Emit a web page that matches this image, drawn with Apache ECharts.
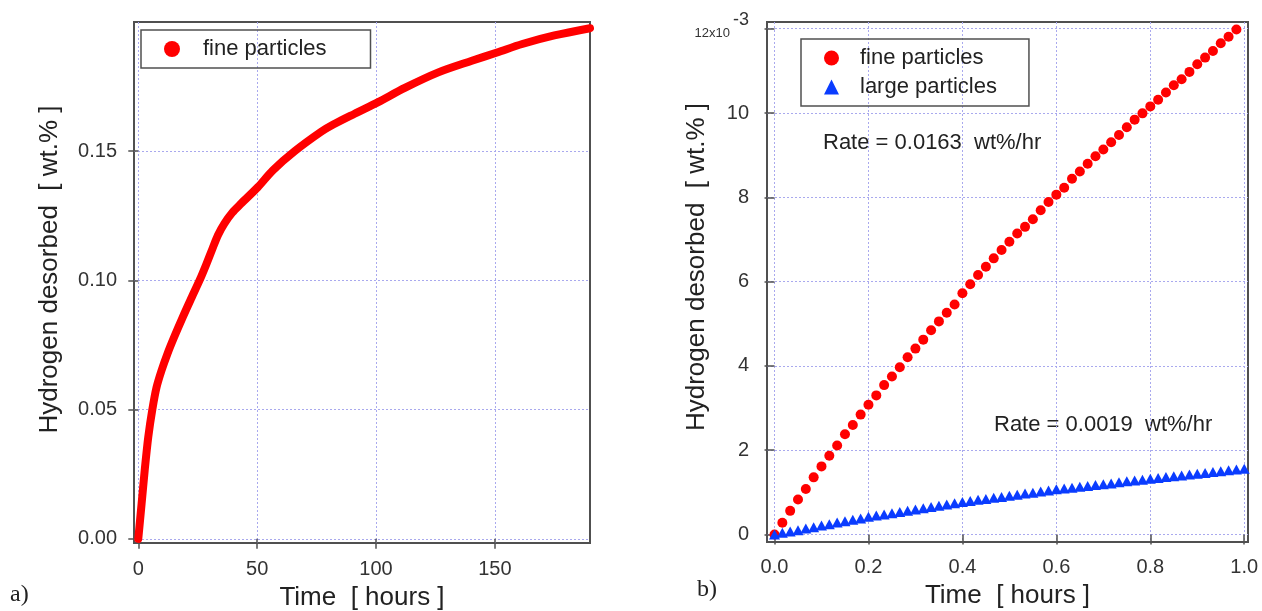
<!DOCTYPE html>
<html>
<head>
<meta charset="utf-8">
<script src="https://cdn.jsdelivr.net/npm/echarts@6/dist/echarts.min.js"></script>
<style>
html,body{margin:0;padding:0;background:#fff;}
#chart{width:1262px;height:611px;}
</style>
</head>
<body>
<div id="chart"></div>
<script>
// ---- Panel a) : long-term desorption, fine particles ----
const aTimeHours = [0,1.4,2.7,4.2,5.9,7.7,9.8,12.3,15.1,18.9,22.5,26,28.5,31.3,33.5,36.2,39.5,43.2,50.3,56.6,65.8,76.9,82,91,100.9,112.1,126.2,140.3,150.9,161.5,175,190];
const aFine = [0,0.0136,0.0265,0.0394,0.05,0.0587,0.0652,0.0717,0.0781,0.0862,0.0935,0.1005,0.1060,0.1125,0.1175,0.1220,0.1262,0.1297,0.1361,0.1426,0.150,0.1575,0.1603,0.1645,0.1690,0.1745,0.1805,0.1850,0.1882,0.1915,0.1948,0.1976];
const aXTicks = [0,50,100,150];
const aYTicks = [0,0.05,0.10,0.15];

// ---- Panel b) : first hour, fine vs large particles (values x10^-3 wt.%) ----
const bMinutes = [0,1,2,3,4,5,6,7,8,9,10,11,12,13,14,15,16,17,18,19,20,21,22,23,24,25,26,27,28,29,30,31,32,33,34,35,36,37,38,39,40,41,42,43,44,45,46,47,48,49,50,51,52,53,54,55,56,57,58,59,60];
const bFine = [0,0.276,0.559,0.827,1.079,1.354,1.614,1.866,2.110,2.378,2.598,2.843,3.079,3.299,3.543,3.748,3.969,4.205,4.409,4.622,4.843,5.055,5.260,5.457,5.724,5.937,6.157,6.354,6.551,6.748,6.945,7.142,7.299,7.480,7.693,7.890,8.063,8.228,8.441,8.614,8.795,8.976,9.134,9.307,9.480,9.661,9.843,9.992,10.157,10.315,10.488,10.661,10.803,10.976,11.157,11.315,11.472,11.654,11.811,11.984];
const bLarge = [0,0.04,0.07,0.10,0.14,0.17,0.21,0.24,0.28,0.31,0.35,0.38,0.42,0.45,0.47,0.50,0.53,0.56,0.59,0.62,0.65,0.68,0.71,0.74,0.77,0.79,0.82,0.84,0.87,0.89,0.92,0.94,0.97,0.99,1.02,1.04,1.07,1.09,1.11,1.13,1.15,1.17,1.19,1.21,1.24,1.26,1.28,1.30,1.32,1.34,1.36,1.38,1.40,1.42,1.44,1.46,1.48,1.50,1.52,1.54,1.56];
const bXTicks = [0,0.2,0.4,0.6,0.8,1.0];
const bYTicks = [0,2,4,6,8,10,12];

const seriesNames = ['fine particles','large particles'];
const rateTexts = ['Rate = 0.0163  wt%/hr','Rate = 0.0019  wt%/hr'];
const panelLabels = ['a)','b)'];
const xName = 'Time  [ hours ]';
const yName = 'Hydrogen desorbed  [ wt.% ]';

const FONT = 'Liberation Sans, Arial, Helvetica, sans-serif';
const SERIF = 'Liberation Serif, Times New Roman, serif';
const FRAME = '#505050';
const GRIDC = '#a9a9ee';

const chart = echarts.init(document.getElementById('chart'), null, {renderer:'canvas'});

function axisCommon(ticks, fmt, margin){
  return {
    axisLine:{show:false},
    axisTick:{show:true, inside:false, length:10, customValues:ticks, lineStyle:{color:FRAME,width:1.5}},
    axisLabel:{customValues:ticks, color:'#333', fontFamily:FONT, fontSize:20, margin:margin, formatter:fmt},
    splitLine:{show:true, lineStyle:{color:GRIDC, width:1, type:[2,2]}},
    nameTextStyle:{color:'#222', fontFamily:FONT, fontSize:26},
    nameLocation:'middle',
    nameMoveOverlap:false
  };
}

const option = {
  animation:false,
  backgroundColor:'#fff',
  grid:[
    {left:134, top:22, width:456, height:521, show:true, borderColor:FRAME, borderWidth:2, containLabel:false, outerBoundsMode:'none'},
    {left:767, top:22, width:481, height:520, show:true, borderColor:FRAME, borderWidth:2, containLabel:false, outerBoundsMode:'none'}
  ],
  xAxis:[
    Object.assign(axisCommon(aXTicks, v=>String(v), 16), {type:'value', gridIndex:0, min:-1.8, max:190, name:xName, nameGap:42}),
    Object.assign(axisCommon(bXTicks, v=>v.toFixed(1), 15), {type:'value', gridIndex:1, min:-0.016, max:1.008, name:xName, nameGap:41})
  ],
  yAxis:[
    Object.assign(axisCommon(aYTicks, v=>v.toFixed(2), 17), {type:'value', gridIndex:0, min:-0.0016, max:0.2, name:yName, nameGap:71}),
    Object.assign(axisCommon(bYTicks, v=> v===12 ? '{m|12x10}{s|-3}' : String(v), 18), {type:'value', gridIndex:1, min:-0.18, max:12.16, name:yName, nameGap:57})
  ],
  legend:[
    {data:[{name:seriesNames[0], icon:'circle'}], left:141, top:30, orient:'vertical',
     itemWidth:16, itemHeight:16, padding:[8,44,8,23], borderColor:FRAME, borderWidth:1.5,
     textStyle:{fontFamily:FONT, fontSize:22, color:'#222', padding:[0,0,0,18]}, selectedMode:false},
    {data:[{name:seriesNames[0], icon:'circle'},{name:seriesNames[1], icon:'triangle'}], left:801, top:39, orient:'vertical',
     itemWidth:15, itemHeight:15, itemGap:7, padding:[8,32,8,23], borderColor:FRAME, borderWidth:1.5,
     textStyle:{fontFamily:FONT, fontSize:22, color:'#222', padding:[0,0,0,16]}, selectedMode:false}
  ],
  series:[
    {name:seriesNames[0], type:'line', xAxisIndex:0, yAxisIndex:0, showSymbol:false, symbol:'circle',
     smooth:0.3,
     lineStyle:{color:'#ff0000', width:8, cap:'round', join:'round'}, itemStyle:{color:'#ff0000'},
     data: aTimeHours.map((t,i)=>[t, aFine[i]])},
    {name:seriesNames[0], type:'scatter', xAxisIndex:1, yAxisIndex:1, symbol:'circle', symbolSize:10,
     itemStyle:{color:'#ff0000', opacity:1}, data: bFine.map((v,i)=>[bMinutes[i]/60, v])},
    {name:seriesNames[1], type:'scatter', xAxisIndex:1, yAxisIndex:1, symbol:'triangle', symbolSize:[11,10],
     itemStyle:{color:'#0a3cff', opacity:1}, data: bLarge.map((v,i)=>[bMinutes[i]/60, v])}
  ],
  graphic:[
    {type:'text', left:823, top:132, style:{text:rateTexts[0], font:'22px '+FONT, fill:'#222'}},
    {type:'text', left:994, top:414, style:{text:rateTexts[1], font:'22px '+FONT, fill:'#222'}},
    {type:'text', left:10, top:583, style:{text:panelLabels[0], font:'24px '+SERIF, fill:'#222'}},
    {type:'text', left:697, top:578, style:{text:panelLabels[1], font:'24px '+SERIF, fill:'#222'}}
  ]
};
option.yAxis[0].nameTextStyle.padding = [0,0,0,26];
option.yAxis[1].nameTextStyle = {color:'#222', fontFamily:FONT, fontSize:26, padding:[0,0,0,30]};
// rich styles for the exponent label
option.yAxis[1].axisLabel.rich = {
  m:{fontFamily:FONT, fontSize:13, color:'#333', padding:[10,3,0,0]},
  s:{fontFamily:FONT, fontSize:18, color:'#333', padding:[0,0,18,0]}
};
chart.setOption(option);
</script>
</body>
</html>
